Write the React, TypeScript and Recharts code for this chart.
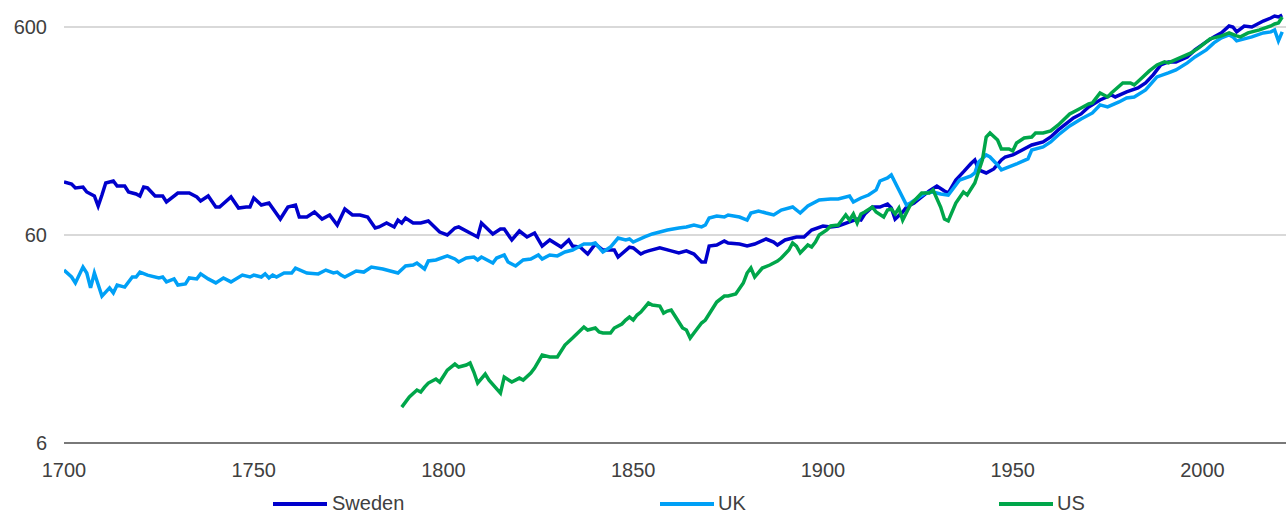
import React from 'react';
import { LineChart, Line, XAxis, YAxis, ReferenceLine, Legend } from 'recharts';

const xTicks = [1700, 1750, 1800, 1850, 1900, 1950, 2000];
const yTicks = [6, 60, 600];
const seriesNames = ['Sweden', 'UK', 'US'];
const seriesColors = ['#0000CC', '#00A0F6', '#00A64A'];

const swedenYears = [1700, 1702, 1703, 1705, 1706, 1708, 1709, 1710, 1711, 1713, 1714, 1716, 1717, 1719, 1720, 1721, 1722, 1724, 1726, 1727, 1730, 1733, 1735, 1736, 1738, 1740, 1741, 1744, 1746, 1748, 1749, 1750, 1752, 1754, 1757, 1759, 1761, 1762, 1764, 1766, 1768, 1770, 1772, 1774, 1776, 1778, 1780, 1782, 1783, 1785, 1787, 1788, 1789, 1790, 1792, 1794, 1796, 1799, 1801, 1803, 1804, 1807, 1809, 1810, 1813, 1815, 1816, 1818, 1820, 1822, 1824, 1826, 1828, 1831, 1833, 1834, 1836, 1838, 1840, 1842, 1845, 1846, 1849, 1850, 1852, 1853, 1854, 1857, 1860, 1862, 1864, 1866, 1868, 1869, 1870, 1872, 1874, 1875, 1878, 1880, 1882, 1885, 1887, 1888, 1890, 1893, 1895, 1897, 1900, 1902, 1904, 1907, 1909, 1910, 1911, 1913, 1915, 1917, 1918, 1919, 1921, 1922, 1924, 1926, 1928, 1930, 1932, 1933, 1935, 1937, 1939, 1940, 1941, 1943, 1945, 1947, 1948, 1950, 1952, 1955, 1958, 1960, 1962, 1964, 1966, 1968, 1970, 1973, 1976, 1977, 1980, 1983, 1985, 1987, 1989, 1991, 1993, 1996, 1998, 2001, 2003, 2005, 2007, 2008, 2009, 2011, 2013, 2014, 2016, 2018, 2019, 2020, 2021];
const swedenValues = [108, 105.5, 101, 102, 96.6, 92.4, 82.7, 93.4, 106.7, 109.1, 103.2, 103.2, 96.6, 94.5, 92.4, 102, 101, 92.4, 92.4, 86.5, 95.5, 95.5, 91.4, 87.4, 92.4, 81.8, 81.8, 91.4, 80.9, 81.8, 81.8, 90.4, 83.6, 85.5, 71.6, 81.8, 83.6, 73.2, 73.2, 77.4, 71.6, 74.9, 67.0, 80.0, 74.9, 74.9, 73.2, 64.8, 65.6, 68.5, 65.6, 70.8, 68.5, 72.4, 68.5, 68.5, 70.1, 62.0, 60, 64.8, 65.6, 61.3, 58.7, 68.5, 60.7, 64.1, 64.1, 56.8, 62.7, 58.7, 61.3, 53.1, 56.8, 52.5, 56.8, 53.1, 52.5, 48.6, 54.3, 50.8, 50.8, 47.0, 52.5, 52.0, 48.6, 49.7, 50.3, 52.0, 50.3, 49.2, 50.3, 48.6, 44.5, 44.5, 53.1, 53.7, 56.1, 54.9, 54.3, 53.1, 54.3, 57.4, 55.5, 53.7, 56.8, 58.7, 58.7, 63.4, 66.3, 65.6, 66.3, 69.3, 71.6, 70.8, 75.7, 81.8, 81.8, 84.6, 80.9, 71.6, 77.4, 81.8, 85.5, 91.4, 97.7, 103.2, 97.7, 95.5, 110.3, 120.6, 132.4, 137.7, 123.3, 119.2, 124.6, 137.7, 142.3, 145.5, 152.1, 162.6, 168.1, 177.6, 192, 205.1, 219.2, 229.2, 247.6, 267.6, 282.9, 276.6, 292.4, 305.6, 323, 353, 394.3, 407.6, 407.6, 430.8, 465.6, 508.7, 537.7, 562, 606.7, 600, 568.3, 606.7, 600, 613.4, 641.2, 662.8, 677.7, 670.3, 685.3];

const ukYears = [1700, 1702, 1703, 1705, 1706, 1707, 1708, 1710, 1712, 1713, 1714, 1716, 1718, 1719, 1720, 1722, 1725, 1726, 1727, 1729, 1730, 1732, 1733, 1735, 1736, 1738, 1740, 1742, 1744, 1747, 1749, 1750, 1752, 1753, 1754, 1755, 1756, 1758, 1760, 1761, 1764, 1767, 1769, 1771, 1772, 1773, 1774, 1777, 1779, 1781, 1784, 1786, 1788, 1790, 1792, 1793, 1795, 1796, 1798, 1801, 1803, 1804, 1806, 1808, 1809, 1810, 1813, 1814, 1816, 1817, 1819, 1821, 1823, 1825, 1826, 1828, 1830, 1832, 1834, 1837, 1839, 1840, 1842, 1844, 1846, 1848, 1849, 1850, 1853, 1855, 1857, 1859, 1862, 1864, 1866, 1868, 1869, 1870, 1872, 1874, 1875, 1878, 1880, 1881, 1883, 1885, 1887, 1889, 1892, 1894, 1896, 1899, 1902, 1904, 1907, 1908, 1910, 1912, 1914, 1915, 1917, 1918, 1920, 1922, 1923, 1925, 1927, 1929, 1931, 1933, 1935, 1936, 1939, 1940, 1941, 1943, 1944, 1946, 1947, 1949, 1951, 1954, 1955, 1958, 1960, 1962, 1965, 1968, 1971, 1973, 1975, 1978, 1980, 1982, 1985, 1988, 1991, 1993, 1996, 1998, 2001, 2003, 2005, 2007, 2008, 2009, 2011, 2013, 2016, 2018, 2019, 2020, 2021];
const ukValues = [40.7, 37.7, 35.3, 42.1, 39.4, 33.4, 39.4, 30.5, 33.4, 31.6, 34.5, 33.7, 37.7, 37.7, 39.8, 38.5, 37.3, 37.7, 35.7, 36.9, 34.5, 34.9, 37.3, 36.9, 39.0, 36.9, 35.3, 37.3, 35.7, 38.5, 37.7, 38.5, 37.7, 39.0, 37.3, 38.5, 37.7, 39.4, 39.4, 41.6, 39.4, 39.0, 40.7, 39.4, 39.8, 38.5, 37.7, 40.3, 39.8, 42.1, 41.2, 40.3, 39.4, 42.6, 43.0, 44.0, 41.2, 45.0, 45.5, 47.6, 46.0, 44.5, 46.5, 47.0, 45.5, 47.0, 44.0, 46.5, 48.1, 44.5, 42.6, 45.5, 46.0, 48.1, 46.0, 48.1, 47.6, 49.7, 50.8, 54.3, 54.3, 54.9, 49.7, 52.5, 58.0, 56.8, 57.4, 55.5, 58.7, 60.7, 62.0, 63.4, 64.8, 65.6, 67.0, 65.6, 67.0, 72.4, 74.0, 73.2, 74.9, 73.2, 70.8, 76.5, 78.3, 76.5, 74.9, 79.1, 81.8, 76.5, 82.7, 88.4, 89.4, 89.4, 92.4, 86.5, 90.4, 93.4, 98.8, 109.1, 112.8, 116.6, 98.8, 83.6, 85.5, 90.4, 95.5, 96.6, 94.5, 93.4, 104.4, 110.3, 115.3, 119.2, 134.7, 145.5, 142.3, 130.3, 123.3, 127.4, 131.7, 139.2, 153.8, 159, 168.1, 181.6, 200.6, 216.8, 231.7, 253.2, 247.6, 261.7, 273.6, 276.6, 298.9, 345.2, 360.9, 373.1, 403.2, 430.8, 465.6, 503.1, 531.8, 549.7, 537.7, 514.4, 525.9, 537.7, 562, 568.3, 581, 514.4, 568.3];

const usYears = [1789, 1791, 1793, 1794, 1795, 1796, 1798, 1799, 1801, 1803, 1804, 1806, 1807, 1808, 1809, 1811, 1812, 1815, 1816, 1818, 1820, 1821, 1823, 1824, 1826, 1828, 1830, 1832, 1834, 1837, 1838, 1840, 1841, 1842, 1844, 1845, 1847, 1848, 1849, 1850, 1851, 1852, 1854, 1855, 1857, 1858, 1859, 1860, 1861, 1863, 1864, 1865, 1866, 1868, 1869, 1871, 1872, 1874, 1875, 1877, 1879, 1880, 1881, 1882, 1884, 1886, 1888, 1889, 1891, 1892, 1893, 1894, 1896, 1897, 1898, 1899, 1901, 1902, 1904, 1905, 1906, 1907, 1908, 1909, 1910, 1911, 1913, 1914, 1916, 1917, 1918, 1919, 1920, 1921, 1923, 1925, 1926, 1928, 1929, 1931, 1932, 1933, 1935, 1937, 1938, 1940, 1942, 1943, 1944, 1946, 1947, 1949, 1950, 1951, 1953, 1955, 1956, 1958, 1960, 1962, 1965, 1966, 1968, 1970, 1971, 1973, 1975, 1976, 1979, 1981, 1982, 1984, 1986, 1988, 1990, 1991, 1994, 1997, 1999, 2001, 2002, 2005, 2007, 2009, 2010, 2012, 2015, 2018, 2019, 2020, 2021];
const usValues = [8.93, 9.98, 10.78, 10.54, 11.14, 11.65, 12.18, 11.78, 13.45, 14.38, 13.91, 14.22, 14.54, 13.16, 11.65, 12.87, 12.04, 10.43, 12.45, 11.78, 12.31, 12.04, 13.01, 13.75, 15.88, 15.54, 15.54, 17.74, 19.17, 21.66, 20.95, 21.42, 20.49, 20.27, 20.27, 21.42, 22.39, 23.41, 24.2, 23.41, 24.74, 25.57, 28.26, 27.63, 27.33, 25.29, 25.86, 26.15, 24.47, 21.42, 20.95, 19.17, 20.27, 22.64, 23.41, 26.73, 28.57, 30.53, 30.53, 31.22, 35.26, 39.39, 41.63, 37.68, 41.63, 43.04, 44.99, 46.51, 50.8, 54.9, 53.1, 49.2, 53.7, 52.5, 55.5, 60, 63.4, 66.3, 67.0, 70.8, 74.9, 70.8, 75.7, 68.5, 75.7, 77.4, 81.8, 77.4, 73.2, 79.1, 80.0, 75.7, 80.9, 70.8, 83.6, 91.4, 95.5, 95.5, 98.8, 81.8, 71.6, 70.1, 85.5, 96.6, 93.4, 106.7, 137.7, 177.6, 185.7, 171.8, 155.5, 155.5, 152.1, 166.2, 175.7, 177.6, 185.7, 185.7, 189.8, 202.9, 229.2, 234.3, 244.9, 256, 258.9, 289.2, 276.6, 289.2, 323, 323, 316, 341.4, 369, 394.3, 407.6, 403.2, 426.1, 450.4, 476, 508.7, 525.9, 543.7, 562, 543.7, 537.7, 562, 581, 606.7, 620.3, 627.2, 670.3];

const toRows = (years: number[], values: number[]) =>
  years.map((year, i) => ({ year, value: values[i] }));

const swedenRows = toRows(swedenYears, swedenValues);
const ukRows = toRows(ukYears, ukValues);
const usRows = toRows(usYears, usValues);

const FONT = '"Liberation Sans", Arial, sans-serif';
const TEXT = '#404040';

const legendSlots: Record<string, { line: number; text: number }> = {
  Sweden: { line: 273, text: 332 },
  UK: { line: 660, text: 718 },
  US: { line: 999, text: 1057 },
};

const renderLegend = (props: any) => {
  const payload = props.payload || [];
  return (
    <div style={{ position: 'relative', width: 1286, height: 513, pointerEvents: 'none' }}>
      {payload.map((entry: any) => {
        const slot = legendSlots[entry.value];
        if (!slot) return null;
        return (
          <React.Fragment key={entry.value}>
            <div style={{ position: 'absolute', left: slot.line, top: 502, width: 54, height: 4, background: entry.color }} />
            <div style={{ position: 'absolute', left: slot.text, top: 493, fontSize: 20, lineHeight: '20px', color: TEXT, whiteSpace: 'nowrap', fontFamily: FONT }}>
              {entry.value}
            </div>
          </React.Fragment>
        );
      })}
    </div>
  );
};

export default function App() {
  return (
    <div style={{ position: 'absolute', left: 0, top: 0, width: 1286, height: 513, overflow: 'hidden', background: '#fff', fontFamily: FONT }}>
      <LineChart width={1286} height={513} margin={{ top: 0, right: 0, bottom: 0, left: 0 }}>
        {yTicks.slice(1).map((t) => (
          <ReferenceLine key={t} y={t} stroke="#D9D9D9" strokeWidth={2} ifOverflow="extendDomain" />
        ))}
        <XAxis
          type="number"
          dataKey="year"
          domain={[1700, 2022]}
          ticks={xTicks}
          interval={0}
          allowDataOverflow
          height={70}
          tickSize={0}
          tickMargin={20}
          tickLine={false}
          axisLine={{ stroke: '#4D4D4D', strokeWidth: 1.5 }}
          tick={{ fill: TEXT, fontSize: 20, fontFamily: FONT }}
        />
        <YAxis
          type="number"
          scale="log"
          domain={[6, 809]}
          ticks={yTicks}
          interval={0}
          allowDataOverflow
          width={64}
          tickSize={0}
          tickMargin={17}
          tickLine={false}
          axisLine={false}
          tick={{ fill: TEXT, fontSize: 20, fontFamily: FONT }}
        />
        <Legend layout="horizontal" verticalAlign="middle" align="center" content={renderLegend} wrapperStyle={{ left: 0, top: 0, width: 1286, height: 513 }} />
        <Line data={swedenRows} dataKey="value" name={seriesNames[0]} type="linear" stroke={seriesColors[0]} strokeWidth={3.5} dot={false} isAnimationActive={false} />
        <Line data={ukRows} dataKey="value" name={seriesNames[1]} type="linear" stroke={seriesColors[1]} strokeWidth={3.5} dot={false} isAnimationActive={false} />
        <Line data={usRows} dataKey="value" name={seriesNames[2]} type="linear" stroke={seriesColors[2]} strokeWidth={3.5} dot={false} isAnimationActive={false} />
      </LineChart>
    </div>
  );
}
